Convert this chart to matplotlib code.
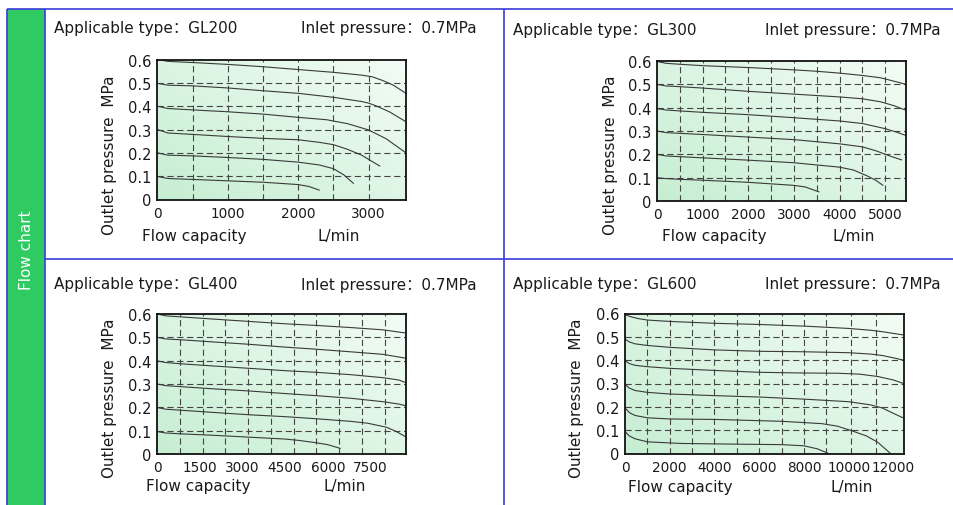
import numpy as np
import matplotlib
matplotlib.use("Agg")
import matplotlib.pyplot as plt
from matplotlib.patches import Rectangle
from matplotlib.lines import Line2D
from matplotlib.colors import LinearSegmentedColormap

plt.rcParams['font.family'] = ['DejaVu Sans', 'Noto Sans CJK SC']
plt.rcParams['lines.scale_dashes'] = False

# ---------------- data ----------------
models = ["GL200", "GL300", "GL400", "GL600"]
inlet_label = "Inlet pressure：0.7MPa"
y_ticks = [0, 0.1, 0.2, 0.3, 0.4, 0.5, 0.6]
y_ticklabels = ["0", "0.1", "0.2", "0.3", "0.4", "0.5", "0.6"]
y_grid = [0.1, 0.2, 0.3, 0.4, 0.5]

gl200_xticks = [0, 1000, 2000, 3000]
gl300_xticks = [0, 1000, 2000, 3000, 4000, 5000]
gl400_xticks = [0, 1500, 3000, 4500, 6000, 7500]
gl600_xticks = [0, 2000, 4000, 6000, 8000, 10000, 12000]

gl200_xgrid = [500, 1000, 1500, 2000, 2500, 3000]
gl300_xgrid = [500, 1000, 1500, 2000, 2500, 3000, 3500, 4000, 4500, 5000]
gl400_xgrid = [800, 1600, 2400, 3200, 4000, 4800, 5600, 6400, 7200, 8000]
gl600_xgrid = [1000, 2000, 3000, 4000, 5000, 6000, 7000, 8000, 9000, 10100, 11200]

gl200_x = [
    [0, 150, 500, 1000, 1500, 2000, 2500, 2900, 3050, 3200, 3350, 3520],
    [0, 150, 500, 1000, 1500, 2000, 2500, 2900, 3000, 3100, 3300, 3520],
    [0, 150, 500, 1000, 1500, 2000, 2400, 2700, 3000, 3250, 3520],
    [0, 150, 500, 1000, 1500, 2000, 2300, 2500, 2700, 2900, 3160],
    [0, 150, 500, 1000, 1500, 2000, 2300, 2500, 2650, 2785],
    [0, 150, 500, 1000, 1500, 2000, 2150, 2300],
]
gl200_y = [
    [0.600, 0.592, 0.587, 0.579, 0.569, 0.557, 0.545, 0.533, 0.526, 0.510, 0.490, 0.457],
    [0.498, 0.490, 0.487, 0.478, 0.466, 0.455, 0.438, 0.420, 0.413, 0.402, 0.375, 0.335],
    [0.400, 0.390, 0.384, 0.376, 0.366, 0.352, 0.342, 0.325, 0.298, 0.260, 0.202],
    [0.300, 0.285, 0.279, 0.270, 0.262, 0.256, 0.245, 0.235, 0.215, 0.190, 0.143],
    [0.200, 0.190, 0.187, 0.180, 0.172, 0.160, 0.148, 0.132, 0.105, 0.069],
    [0.099, 0.090, 0.086, 0.080, 0.074, 0.064, 0.056, 0.040],
]

gl300_x = [
    [0, 200, 500, 1000, 2000, 3000, 3500, 4000, 4500, 4900, 5100, 5300, 5450],
    [0, 200, 500, 1000, 2000, 3000, 4000, 4500, 4900, 5200, 5450],
    [0, 200, 500, 1000, 2000, 3000, 4000, 4500, 5000, 5250, 5450],
    [0, 200, 500, 1000, 2000, 3000, 4000, 4500, 4800, 5100, 5360],
    [0, 200, 500, 1000, 2000, 3000, 4000, 4300, 4600, 4800, 4950],
    [0, 200, 500, 1000, 2000, 3000, 3250, 3550],
]
gl300_y = [
    [0.598, 0.590, 0.586, 0.580, 0.572, 0.562, 0.556, 0.548, 0.538, 0.528, 0.518, 0.508, 0.500],
    [0.500, 0.493, 0.490, 0.484, 0.470, 0.458, 0.446, 0.438, 0.425, 0.408, 0.389],
    [0.396, 0.390, 0.386, 0.380, 0.370, 0.357, 0.343, 0.332, 0.310, 0.295, 0.281],
    [0.300, 0.293, 0.290, 0.285, 0.274, 0.263, 0.245, 0.232, 0.215, 0.193, 0.176],
    [0.200, 0.193, 0.190, 0.185, 0.175, 0.164, 0.145, 0.133, 0.108, 0.088, 0.067],
    [0.100, 0.096, 0.093, 0.089, 0.080, 0.067, 0.060, 0.039],
]

gl400_x = [
    [0, 300, 900, 2000, 3250, 4500, 5600, 6800, 7950, 8770],
    [0, 300, 900, 2000, 3250, 4500, 5600, 6800, 7950, 8770],
    [0, 300, 900, 2000, 3250, 4500, 5600, 6800, 7950, 8500, 8770],
    [0, 300, 900, 2000, 3250, 4500, 5600, 6800, 7950, 8500, 8770],
    [0, 300, 900, 2000, 3250, 4500, 5600, 6800, 7400, 8060, 8400, 8770],
    [0, 300, 900, 2000, 3250, 4500, 5000, 5600, 6000, 6440],
]
gl400_y = [
    [0.600, 0.592, 0.587, 0.578, 0.568, 0.558, 0.551, 0.542, 0.532, 0.518],
    [0.500, 0.493, 0.489, 0.480, 0.470, 0.458, 0.449, 0.438, 0.427, 0.410],
    [0.399, 0.392, 0.386, 0.377, 0.367, 0.357, 0.350, 0.340, 0.327, 0.317, 0.305],
    [0.300, 0.293, 0.288, 0.279, 0.270, 0.259, 0.250, 0.239, 0.224, 0.214, 0.206],
    [0.199, 0.192, 0.187, 0.178, 0.168, 0.160, 0.151, 0.140, 0.132, 0.115, 0.097, 0.072],
    [0.096, 0.090, 0.086, 0.080, 0.072, 0.064, 0.058, 0.048, 0.040, 0.024],
]

gl600_x = [
    [0, 300, 600, 1000, 2000, 4000, 6000, 8000, 10000, 11000, 11500, 12450],
    [0, 200, 450, 1000, 2000, 4000, 6000, 8000, 10000, 11000, 11500, 12000, 12450],
    [0, 200, 450, 1000, 2000, 4000, 6000, 8000, 9500, 10500, 11300, 12000, 12450],
    [0, 200, 450, 1000, 2000, 4000, 6000, 8000, 10000, 11000, 11500, 12000, 12450],
    [0, 200, 450, 1000, 2000, 4000, 7000, 8800, 9500, 10150, 10800, 11300, 11870],
    [0, 200, 450, 1000, 2500, 5000, 7000, 8000, 8600, 9100],
]
gl600_y = [
    [0.595, 0.585, 0.578, 0.572, 0.566, 0.558, 0.553, 0.546, 0.536, 0.528, 0.522, 0.508],
    [0.490, 0.478, 0.470, 0.463, 0.455, 0.444, 0.438, 0.436, 0.432, 0.426, 0.420, 0.410, 0.400],
    [0.398, 0.385, 0.378, 0.372, 0.365, 0.356, 0.348, 0.345, 0.344, 0.340, 0.330, 0.315, 0.300],
    [0.296, 0.280, 0.270, 0.262, 0.255, 0.248, 0.242, 0.233, 0.222, 0.208, 0.195, 0.172, 0.152],
    [0.195, 0.175, 0.163, 0.153, 0.148, 0.146, 0.138, 0.128, 0.117, 0.097, 0.075, 0.048, 0.000],
    [0.094, 0.075, 0.063, 0.050, 0.043, 0.040, 0.038, 0.033, 0.020, 0.000],
]

# ---------------- layout (pixels) ----------------
W, H = 954, 506
fig = plt.figure(figsize=(W / 100, H / 100), dpi=100)
fig.patch.set_facecolor("white")

def fx(x):
    return x / W

def fy(y):
    return 1 - y / H

BLUE = "#3a3ade"
GREEN = "#2fcb62"
TXT = "#1a1a1a"

# green side strip
fig.patches.append(Rectangle((fx(7), fy(506)), fx(45.5) - fx(7), (506 - 10) / H,
                             transform=fig.transFigure, facecolor=GREEN,
                             edgecolor="none", zorder=0))
for (x0, y0, x1, y1) in [(7, 10, 954, 10), (7, 10, 7, 506), (45.5, 10, 45.5, 506),
                         (504, 10, 504, 506), (45.5, 260, 954, 260)]:
    fig.lines.append(Line2D([fx(x0), fx(x1)], [fy(y0), fy(y1)], transform=fig.transFigure,
                            color=BLUE, lw=1.2, solid_capstyle="butt", zorder=1))
fig.text(fx(27), fy(250), "Flow chart", rotation=90, color="white", fontsize=11,
         ha="center", va="center")

cmap = LinearSegmentedColormap.from_list("mint", ["#c6eed2", "#f3fcf5"])
gy, gx = np.mgrid[0:1:60j, 0:1:60j]
grad = 0.55 * gx + 0.45 * gy

panels = [
    dict(model=models[0], xs=gl200_x, ys=gl200_y, xticks=gl200_xticks, xmax=3530, xgrid=gl200_xgrid,
         box=(157.3, 60.5, 406.0, 200.5), title=(54, 29), inlet=(301, 29),
         ylab=(110, 155), flow=(194.5, 237), unit=(339, 237)),
    dict(model=models[1], xs=gl300_x, ys=gl300_y, xticks=gl300_xticks, xmax=5455, xgrid=gl300_xgrid,
         box=(657.0, 62.0, 906.0, 202.0), title=(513, 30), inlet=(765, 30),
         ylab=(610, 155), flow=(714.5, 237), unit=(854, 237)),
    dict(model=models[2], xs=gl400_x, ys=gl400_y, xticks=gl400_xticks, xmax=8770, xgrid=gl400_xgrid,
         box=(157.3, 315.0, 406.5, 455.0), title=(54, 284), inlet=(301, 286),
         ylab=(110, 398), flow=(198.5, 486.5), unit=(345, 486.5)),
    dict(model=models[3], xs=gl600_x, ys=gl600_y, xticks=gl600_xticks, xmax=12450, xgrid=gl600_xgrid,
         box=(625.0, 314.5, 903.5, 454.5), title=(513, 285), inlet=(765, 285),
         ylab=(577, 398), flow=(680.5, 488), unit=(852, 488)),
]

grid_style = dict(color="#454545", lw=0.8, linestyle=(0, (4.5, 2.6)), zorder=1)

for p in panels:
    l, t, r, b = p["box"]
    ax = fig.add_axes([fx(l), fy(b), (r - l) / W, (b - t) / H])
    ax.imshow(grad, extent=[0, 1, 0, 1], transform=ax.transAxes, cmap=cmap,
              origin="lower", aspect="auto", zorder=0, interpolation="bilinear")
    for gxv in p["xgrid"]:
        ax.axvline(gxv, **grid_style)
    for gyv in y_grid:
        ax.axhline(gyv, **grid_style)
    for xs, ys in zip(p["xs"], p["ys"]):
        ax.plot(xs, ys, color="#3a3a3a", lw=0.8, zorder=3, solid_capstyle="round")
    ax.set_xlim(0, p["xmax"])
    ax.set_ylim(0, 0.6)
    ax.set_xticks(p["xticks"])
    ax.set_xticklabels([str(v) for v in p["xticks"]])
    ax.set_yticks(y_ticks)
    ax.set_yticklabels(y_ticklabels)
    ax.tick_params(which="both", length=0)
    ax.tick_params(axis="x", pad=4.5, labelsize=9.8, labelcolor=TXT)
    ax.tick_params(axis="y", pad=4.0, labelsize=10.5, labelcolor=TXT)
    for s in ax.spines.values():
        s.set_linewidth(1.3)
        s.set_color("#111111")
        s.set_zorder(4)

    fig.text(fx(p["title"][0]), fy(p["title"][1]), "Applicable type：" + p["model"],
             fontsize=11, color=TXT, ha="left", va="center")
    fig.text(fx(p["inlet"][0]), fy(p["inlet"][1]), inlet_label,
             fontsize=11, color=TXT, ha="left", va="center")
    fig.text(fx(p["ylab"][0]), fy(p["ylab"][1]), "Outlet pressure  MPa", rotation=90,
             fontsize=11, color=TXT, ha="center", va="center")
    fig.text(fx(p["flow"][0]), fy(p["flow"][1]), "Flow capacity",
             fontsize=11, color=TXT, ha="center", va="center")
    fig.text(fx(p["unit"][0]), fy(p["unit"][1]), "L/min",
             fontsize=11, color=TXT, ha="center", va="center")

fig.savefig("out.png", dpi=100, facecolor="white")
